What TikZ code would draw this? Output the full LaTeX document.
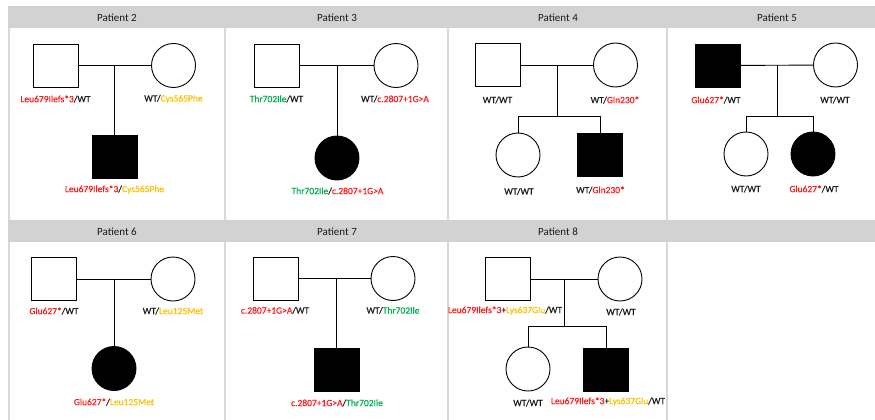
\documentclass[tikz,border=0pt]{standalone}
\usepackage{fontspec}
\setmainfont{Carlito}
\newfontfamily\genofont[FakeBold=0.6]{Carlito}
\definecolor{mred}{HTML}{FF1A1A}
\definecolor{mgold}{HTML}{FFC000}
\definecolor{mgreen}{HTML}{00B050}
\definecolor{hdrgray}{HTML}{D2D2D2}
\definecolor{rulegray}{HTML}{D9D9D9}
\definecolor{ink}{HTML}{1A1A1A}
\tikzset{
  male/.style={draw,rectangle,line width=0.9pt,minimum width=45pt,minimum height=43pt,inner sep=0pt,fill=white},
  female/.style={draw,circle,line width=0.9pt,minimum size=44pt,inner sep=0pt,fill=white},
  affected/.style={fill=black},
  geno/.style={font=\genofont\fontsize{9.5}{11}\selectfont,text=ink,inner sep=0pt},
  link/.style={line width=0.9pt},
  hdrtxt/.style={font=\fontsize{11}{13}\selectfont,text=ink,inner sep=0pt},
  cellrule/.style={draw=rulegray,line width=1.2pt}
}
\newcommand{\rd}[1]{\textcolor{mred}{#1}}
\newcommand{\gd}[1]{\textcolor{mgold}{#1}}
\newcommand{\gr}[1]{\textcolor{mgreen}{#1}}
\begin{document}
\begin{tikzpicture}[x=1pt,y=-1pt]
\useasboundingbox (0,0) rectangle (875,420);
\fill[white] (0,0) rectangle (875,420);

% table grid
\foreach \cx in {9,225,448,667} {
  \draw[cellrule] (\cx,28) -- (\cx,420);
}
\fill[hdrgray] (8,6) rectangle (875,28);
\fill[hdrgray] (8,220) rectangle (875,242);

% headers
\node[hdrtxt] (h2) at (117,17.5) {Patient 2};
\node[hdrtxt] (h3) at (337,17.5) {Patient 3};
\node[hdrtxt] (h4) at (558,17.5) {Patient 4};
\node[hdrtxt] (h5) at (777,17.5) {Patient 5};
\node[hdrtxt] (h6) at (117,231.5) {Patient 6};
\node[hdrtxt] (h7) at (337,231.5) {Patient 7};
\node[hdrtxt] (h8) at (558,231.5) {Patient 8};

% ---------- Patient 2 ----------
\node[male] (p2f) at (55.5,65.5) {};
\node[female] (p2m) at (173.5,65.5) {};
\node[male,affected] (p2c) at (114.5,156.5) {};
\draw[link] (p2f) -- (p2m);
\coordinate (p2u) at (p2c.north |- p2f.east);
\draw[link] (p2u) -- (p2c.north);
\node[geno] (p2fl) at (55.5,99) {\rd{Leu679Ilefs*3}/WT};
\node[geno] (p2ml) at (173.5,99) {WT/\gd{Cys565Phe}};
\node[geno] (p2cl) at (114.5,189.5) {\rd{Leu679Ilefs*3}/\gd{Cys565Phe}};

% ---------- Patient 3 ----------
\node[male] (p3f) at (276.5,65.5) {};
\node[female] (p3m) at (396,65.5) {};
\node[female,affected] (p3c) at (337,158) {};
\draw[link] (p3f) -- (p3m);
\coordinate (p3u) at (p3c.north |- p3f.east);
\draw[link] (p3u) -- (p3c.north);
\node[geno] (p3fl) at (276.5,99) {\gr{Thr702Ile}/WT};
\node[geno] (p3ml) at (395,99) {WT/\rd{c.2807+1G>A}};
\node[geno] (p3cl) at (337.5,191) {\gr{Thr702Ile}/\rd{c.2807+1G>A}};

% ---------- Patient 4 ----------
\node[male] (p4f) at (498,65) {};
\node[female] (p4m) at (615.5,65) {};
\node[female] (p4c1) at (518,155) {};
\node[male,affected] (p4c2) at (600,155) {};
\draw[link] (p4f) -- (p4m);
\coordinate (p4u) at (557,65);
\coordinate (p4s) at (557,116);
\draw[link] (p4u) -- (p4s);
\draw[link] (p4c1.north) -- (p4c1.north |- p4s) -- (p4c2.north |- p4s) -- (p4c2.north);
\node[geno] (p4fl) at (497.5,100) {WT/WT};
\node[geno] (p4ml) at (615,100) {WT/\rd{Gln230*}};
\node[geno] (p4c1l) at (519,191.5) {WT/WT};
\node[geno] (p4c2l) at (600.5,190) {WT/\rd{Gln230*}};

% ---------- Patient 5 ----------
\node[male,affected] (p5f) at (718,65.5) {};
\node[female] (p5m) at (835.5,65) {};
\node[female] (p5c1) at (746,154) {};
\node[female,affected] (p5c2) at (813,154) {};
\draw[link] (p5f) -- (p5m);
\coordinate (p5u) at (777,65);
\coordinate (p5s) at (777,116);
\draw[link] (p5u) -- (p5s);
\draw[link] (p5c1.north) -- (p5c1.north |- p5s) -- (p5c2.north |- p5s) -- (p5c2.north);
\node[geno] (p5fl) at (716,100) {\rd{Glu627*}/WT};
\node[geno] (p5ml) at (835,100) {WT/WT};
\node[geno] (p5c1l) at (746,189) {WT/WT};
\node[geno] (p5c2l) at (814,189) {\rd{Glu627*}/WT};

% ---------- Patient 6 ----------
\node[male] (p6f) at (54,279) {};
\node[female] (p6m) at (173,279) {};
\node[female,affected] (p6c) at (114,368.5) {};
\draw[link] (p6f) -- (p6m);
\coordinate (p6u) at (p6c.north |- p6f.east);
\draw[link] (p6u) -- (p6c.north);
\node[geno] (p6fl) at (54,311) {\rd{Glu627*}/WT};
\node[geno] (p6ml) at (173,311) {WT/\gd{Leu125Met}};
\node[geno] (p6cl) at (114,402) {\rd{Glu627*}/\gd{Leu125Met}};

% ---------- Patient 7 ----------
\node[male] (p7f) at (275.5,278.5) {};
\node[female] (p7m) at (393,278.5) {};
\node[male,affected] (p7c) at (336.5,370) {};
\draw[link] (p7f) -- (p7m);
\coordinate (p7u) at (p7c.north |- p7f.east);
\draw[link] (p7u) -- (p7c.north);
\node[geno] (p7fl) at (275,310.5) {\rd{c.2807+1G>A}/WT};
\node[geno] (p7ml) at (393,310.5) {WT/\gr{Thr702Ile}};
\node[geno] (p7cl) at (337,403) {\rd{c.2807+1G>A}/\gr{Thr702Ile}};

% ---------- Patient 8 ----------
\node[male] (p8f) at (508,279) {};
\node[female] (p8m) at (620,279) {};
\node[female] (p8c1) at (528,369) {};
\node[male,affected] (p8c2) at (606,370) {};
\draw[link] (p8f) -- (p8m);
\coordinate (p8u) at (564,279);
\coordinate (p8s) at (564,326);
\draw[link] (p8u) -- (p8s);
\draw[link] (p8c1.north) -- (p8c1.north |- p8s) -- (p8c2.north |- p8s) -- (p8c2.north);
\node[geno] (p8fl) at (505,310.5) {\rd{Leu679Ilefs*3}+\gd{Lys637Glu}/WT};
\node[geno] (p8ml) at (621,312) {WT/WT};
\node[geno] (p8c1l) at (528,403) {WT/WT};
\node[geno] (p8c2l) at (608,401.5) {\rd{Leu679Ilefs*3}+\gd{Lys637Glu}/WT};
\end{tikzpicture}
\end{document}
